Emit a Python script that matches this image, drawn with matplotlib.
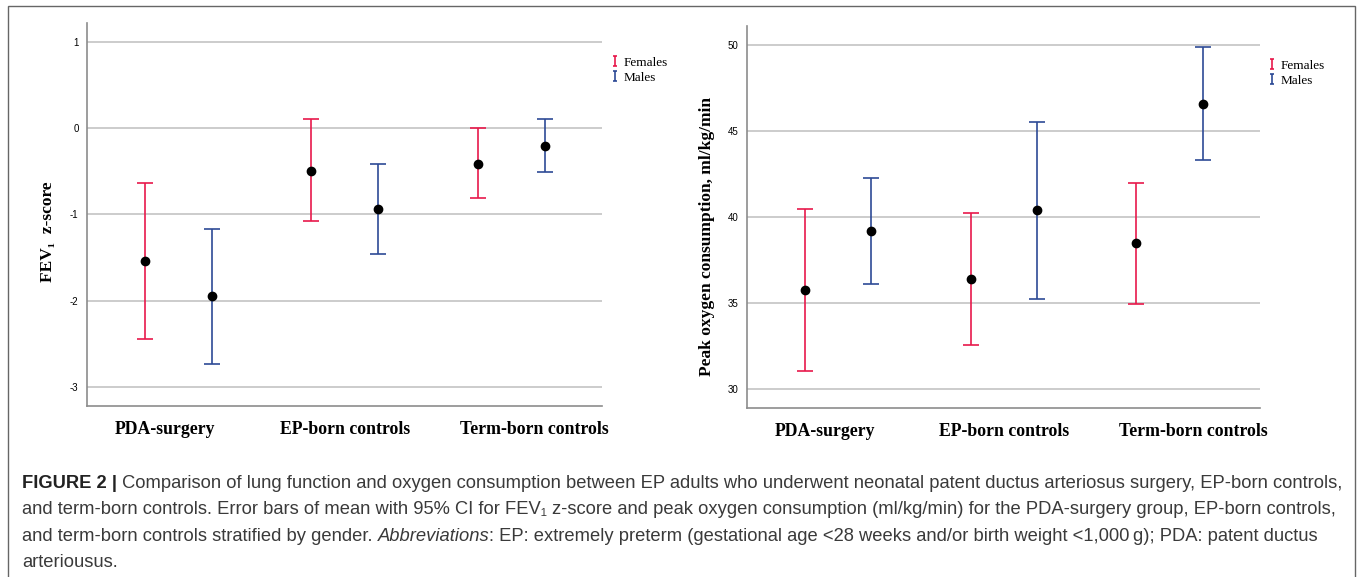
import numpy as np
import matplotlib
matplotlib.use("Agg")
import matplotlib.pyplot as plt
from matplotlib.patches import Rectangle
from matplotlib.lines import Line2D
from matplotlib.path import Path

groups = ["PDA-surgery", "EP-born controls", "Term-born controls"]
sexes = ["Females", "Males"]

# FEV1 z-score: mean, lower and upper 95% CI
fev_mean_f = [-1.54, -0.49, -0.41]
fev_lo_f = [-2.45, -1.08, -0.81]
fev_hi_f = [-0.63, 0.11, 0.00]
fev_mean_m = [-1.95, -0.935, -0.20]
fev_lo_m = [-2.73, -1.46, -0.51]
fev_hi_m = [-1.17, -0.41, 0.11]

# peak oxygen consumption, ml/kg/min
vo2_mean_f = [35.74, 36.41, 38.47]
vo2_lo_f = [31.05, 32.58, 34.96]
vo2_hi_f = [40.47, 40.25, 42.00]
vo2_mean_m = [39.19, 40.39, 46.57]
vo2_lo_m = [36.10, 35.23, 43.29]
vo2_hi_m = [42.29, 45.54, 49.86]

red = "#e8194b"
blue = "#2d4a96"
serif = ["Liberation Serif", "DejaVu Serif"]
narrow = ["Liberation Sans Narrow", "Liberation Sans", "DejaVu Sans"]
sans = ["Liberation Sans", "DejaVu Sans"]

fig = plt.figure(figsize=(13.58, 5.77), dpi=100)
W, H = 1358, 577

def px(x0, y0, x1, y1):
    return [x0 / W, 1 - y1 / H, (x1 - x0) / W, (y1 - y0) / H]

# "I" shaped marker for the legend keys
i_marker = Path([(-0.45, -1), (0.45, -1), (0, -1), (0, 1), (-0.45, 1), (0.45, 1)],
                [Path.MOVETO, Path.LINETO, Path.MOVETO, Path.LINETO, Path.MOVETO, Path.LINETO])

def panel(rect, mf, lf, hf, mm, lm, hm, ylim, yticks, ylabel, labx, laby, leg_xy):
    ax = fig.add_axes(rect)
    x = np.arange(len(groups))
    for off, m, lo, hi, c in [(-0.2, mf, lf, hf, red), (0.2, mm, lm, hm, blue)]:
        m = np.array(m); lo = np.array(lo); hi = np.array(hi)
        ax.errorbar(x + off, m, yerr=[m - lo, hi - m], fmt="none", ecolor=c,
                    elinewidth=1.2, capsize=5.5, capthick=1.2, zorder=3)
        ax.plot(x + off, m, "o", color="black", ms=6, zorder=4)
    ax.set_xlim(-0.548, 2.545)
    ax.set_ylim(*ylim)
    ax.set_yticks(yticks)
    ax.set_yticklabels([str(t) for t in yticks], family=narrow, fontsize=7)
    ax.grid(axis="y", color="#c8c8c8", lw=1.3)
    ax.set_axisbelow(True)
    ax.tick_params(axis="y", length=0, pad=6)
    ax.set_xticks([-0.08, 1.0, 2.14])
    ax.set_xticklabels(groups, family=serif, fontsize=12.8, fontweight="bold")
    ax.tick_params(axis="x", length=0, pad=11)
    for s in ["top", "right"]:
        ax.spines[s].set_visible(False)
    for s in ["left", "bottom"]:
        ax.spines[s].set_color("#8c8c8c")
        ax.spines[s].set_linewidth(1.2)
    ax.set_ylabel(ylabel, family=serif, fontsize=12.5, fontweight="bold")
    ax.yaxis.set_label_coords(labx, laby)
    hs = [Line2D([], [], ls="none", marker=i_marker, ms=7.5, mew=1.2, color=c,
                 fillstyle="none") for c in (red, blue)]
    ax.legend(hs, sexes, loc="upper left", bbox_to_anchor=(leg_xy[0] / W, 1 - leg_xy[1] / H),
              bbox_transform=fig.transFigure, frameon=False, handlelength=0.5,
              handletextpad=0.4, labelspacing=0.2, borderpad=0,
              prop={"family": serif, "size": 9.5})
    return ax

panel(px(87, 23, 602, 406), fev_mean_f, fev_lo_f, fev_hi_f, fev_mean_m, fev_lo_m, fev_hi_m,
      (-3.222, 1.222), [-3, -2, -1, 0, 1], "FEV\u2081  z-score", -0.06, 0.454, (605, 50))
panel(px(747, 26, 1260, 408), vo2_mean_f, vo2_lo_f, vo2_hi_f, vo2_mean_m, vo2_lo_m, vo2_hi_m,
      (28.9, 51.1), [30, 35, 40, 45, 50], "Peak oxygen consumption, ml/kg/min", -0.062, 0.45,
      (1262, 53))

# outer frame
fig.patches.append(Rectangle((8 / W, -0.1), 1347 / W, 1.1 - 6 / H, transform=fig.transFigure,
                             fill=False, edgecolor="#666666", lw=1.0))

# caption, drawn piece by piece so the styles can change inside a line
renderer = fig.canvas.get_renderer()
cap_lines = [
    [("FIGURE 2 |", "bold", "normal"),
     (" Comparison of lung function and oxygen consumption between EP adults who underwent neonatal patent ductus arteriosus surgery, EP-born controls,", "normal", "normal")],
    [("and term-born controls. Error bars of mean with 95% CI for FEV\u2081 z-score and peak oxygen consumption (ml/kg/min) for the PDA-surgery group, EP-born controls,", "normal", "normal")],
    [("and term-born controls stratified by gender. ", "normal", "normal"),
     ("Abbreviations", "normal", "italic"),
     (": EP: extremely preterm (gestational age <28 weeks and/or birth weight <1,000\u2009g); PDA: patent ductus", "normal", "normal")],
    [("arteriousus.", "normal", "normal")],
]
cap_y = [488, 514, 541, 567]
for line, yy in zip(cap_lines, cap_y):
    xx = 22
    for txt, wt, st in line:
        t = fig.text(xx / W, 1 - yy / H, txt, family=sans, fontsize=13.2, fontweight=wt,
                     fontstyle=st, va="baseline", ha="left",
                     color="#222222" if wt == "bold" else "#3a3a3a")
        xx = t.get_window_extent(renderer).x1

fig.savefig("out.png", dpi=100)
